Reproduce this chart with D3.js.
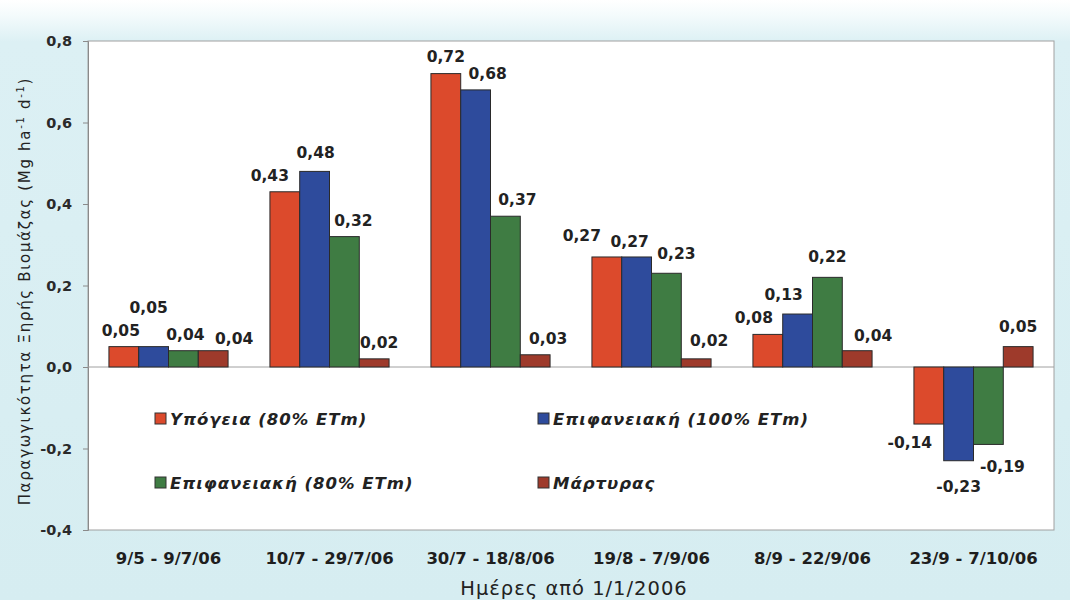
<!DOCTYPE html>
<html>
<head>
<meta charset="utf-8">
<script src="https://cdn.jsdelivr.net/npm/d3@7/dist/d3.min.js"></script>
<style>
  html, body { margin: 0; padding: 0; background: #d9eff3; }
  svg { display: block; }
</style>
</head>
<body>
<svg id="chart" width="1070" height="600"></svg>
<script>
// ---------- DATA ----------
const categories = ["9/5 - 9/7/06", "10/7 - 29/7/06", "30/7 - 18/8/06", "19/8 - 7/9/06", "8/9 - 22/9/06", "23/9 - 7/10/06"];
const seriesNames = ["Υπόγεια (80% ETm)", "Επιφανειακή (100% ETm)", "Επιφανειακή (80% ETm)", "Μάρτυρας"];
const ypogeia80 = [0.05, 0.43, 0.72, 0.27, 0.08, -0.14];
const epifaneiaki100 = [0.05, 0.48, 0.68, 0.27, 0.13, -0.23];
const epifaneiaki80 = [0.04, 0.32, 0.37, 0.23, 0.22, -0.19];
const martyras = [0.04, 0.02, 0.03, 0.02, 0.04, 0.05];
const yTickValues = [-0.4, -0.2, 0, 0.2, 0.4, 0.6, 0.8];
const xTitle = "Ημέρες από 1/1/2006";

// ---------- LAYOUT / STYLE ----------
const seriesValues = [ypogeia80, epifaneiaki100, epifaneiaki80, martyras];
const colors = ["#dc4a2c", "#2e4b9c", "#3f7c43", "#9e3a2b"];
const plot = { left: 88, top: 41, right: 1054, bottom: 530 };
// manual label nudges (dx, dy) in px, per series, per category
const labelNudge = [
  [[-3, 0], [-15, 0], [0, -1], [-25, -5], [-14, 0], [-19, 7]],
  [[-5, -23], [1, -2], [12, 0], [-7, 1], [-14, -3], [0, 14]],
  [[2, 0], [9, 0], [12, 0], [10, -3], [0, -4], [14, 11]],
  [[21, 4], [5, 0], [13, 0], [13, -2], [16, 1], [0, -4]]
];
const legendPos = [[155, 419], [538, 419], [155, 483], [538, 483]];

const svg = d3.select("#chart");
const fontBold = "'DejaVu Sans', sans-serif";

// background gradient
const defs = svg.append("defs");
const grad = defs.append("linearGradient").attr("id", "bg").attr("x1", 0).attr("y1", 0).attr("x2", 0).attr("y2", 1);
grad.append("stop").attr("offset", "0").attr("stop-color", "#ffffff");
grad.append("stop").attr("offset", "0.025").attr("stop-color", "#f4fbfc");
grad.append("stop").attr("offset", "0.07").attr("stop-color", "#dcf0f4");
grad.append("stop").attr("offset", "1").attr("stop-color", "#d6edf1");
svg.append("rect").attr("width", 1070).attr("height", 600).attr("fill", "url(#bg)");

// plot area
svg.append("rect")
  .attr("x", plot.left).attr("y", plot.top)
  .attr("width", plot.right - plot.left).attr("height", plot.bottom - plot.top)
  .attr("fill", "#ffffff").attr("stroke", "#a0a0a0").attr("stroke-width", 1);

// scales
const x0 = d3.scaleBand().domain(categories).range([plot.left, plot.right]).paddingInner(0.26).paddingOuter(0.13);
const x1 = d3.scaleBand().domain(d3.range(seriesNames.length)).range([0, x0.bandwidth()]);
const y = d3.scaleLinear().domain([-0.4, 0.8]).range([plot.bottom, plot.top]);

const fmt = (v, p) => d3.format("." + p + "f")(v).replace(".", ",").replace("−", "-");

// y axis
const yAxis = d3.axisLeft(y).tickValues(yTickValues).tickSize(5).tickPadding(11).tickFormat(d => fmt(d, 1));
const yg = svg.append("g").attr("transform", `translate(${plot.left},0)`).call(yAxis);
yg.select(".domain").attr("stroke", "#8a8a8a");
yg.selectAll(".tick line").attr("stroke", "#8a8a8a");
yg.selectAll(".tick text")
  .attr("font-family", fontBold).attr("font-weight", "bold").attr("font-size", "14.5px")
  .attr("fill", "#2a2a2a");

// zero line
svg.append("line")
  .attr("x1", plot.left).attr("x2", plot.right)
  .attr("y1", y(0)).attr("y2", y(0))
  .attr("stroke", "#a0a0a0").attr("stroke-width", 1);

// x category labels
const xAxis = d3.axisBottom(x0).tickSize(0).tickPadding(22);
const xg = svg.append("g").attr("transform", `translate(0,${plot.bottom})`).call(xAxis);
xg.select(".domain").remove();
xg.selectAll(".tick text")
  .attr("font-family", fontBold).attr("font-weight", "bold").attr("font-size", "16.5px")
  .attr("fill", "#1e1e1e");

// bars
const groups = svg.append("g").selectAll("g")
  .data(seriesValues)
  .join("g")
  .attr("fill", (d, i) => colors[i]);

groups.selectAll("rect")
  .data((vals, si) => vals.map((v, ci) => ({ v, ci, si })))
  .join("rect")
  .attr("x", d => x0(categories[d.ci]) + x1(d.si))
  .attr("width", x1.bandwidth())
  .attr("y", d => y(Math.max(0, d.v)))
  .attr("height", d => Math.abs(y(d.v) - y(0)))
  .attr("stroke", "#2a2a2a").attr("stroke-width", 1);

// value labels
groups.selectAll("text")
  .data((vals, si) => vals.map((v, ci) => ({ v, ci, si })))
  .join("text")
  .attr("x", d => x0(categories[d.ci]) + x1(d.si) + x1.bandwidth() / 2 + labelNudge[d.si][d.ci][0])
  .attr("y", d => (d.v >= 0 ? y(d.v) - 11 : y(d.v) + 17) + labelNudge[d.si][d.ci][1])
  .attr("text-anchor", "middle")
  .attr("font-family", fontBold).attr("font-weight", "bold").attr("font-size", "15.5px")
  .attr("fill", "#222222")
  .text(d => fmt(d.v, 2));

// legend
const leg = svg.append("g").selectAll("g").data(seriesNames).join("g")
  .attr("transform", (d, i) => `translate(${legendPos[i][0]},${legendPos[i][1]})`);
leg.append("rect").attr("x", 0).attr("y", -6).attr("width", 11).attr("height", 11)
  .attr("fill", (d, i) => colors[i]).attr("stroke", "#333").attr("stroke-width", 1);
leg.append("text").attr("x", 15).attr("y", 5.5)
  .attr("font-family", fontBold).attr("font-weight", "bold").attr("font-style", "italic")
  .attr("font-size", "16.5px").attr("letter-spacing", "1px").attr("fill", "#222")
  .text(d => d);

// x title
svg.append("text")
  .attr("x", 574).attr("y", 595)
  .attr("text-anchor", "middle")
  .attr("font-family", "'DejaVu Sans', sans-serif").attr("font-size", "19.5px")
  .attr("letter-spacing", "1px")
  .attr("fill", "#222")
  .text(xTitle);

// y title
const yt = svg.append("text")
  .attr("transform", "translate(30,291) rotate(-90)")
  .attr("text-anchor", "middle")
  .attr("font-family", "'DejaVu Sans', sans-serif").attr("font-size", "15px")
  .attr("letter-spacing", "1.7px")
  .attr("fill", "#222");
yt.append("tspan").text("Παραγωγικότητα Ξηρής Βιομάζας (Mg ha");
yt.append("tspan").attr("font-size", "10px").attr("dy", -6).text("-1");
yt.append("tspan").attr("dy", 6).text(" d");
yt.append("tspan").attr("font-size", "10px").attr("dy", -6).text("-1");
yt.append("tspan").attr("dy", 6).text(")");
</script>
</body>
</html>
